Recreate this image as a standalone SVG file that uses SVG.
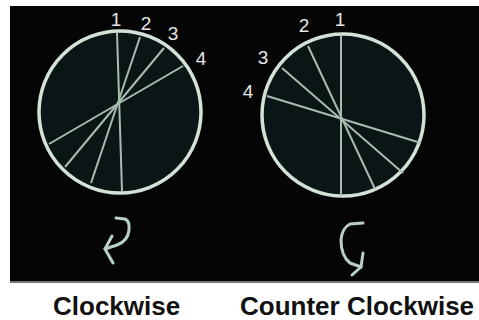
<svg xmlns="http://www.w3.org/2000/svg" width="479" height="320" viewBox="0 0 479 320">
<style>
.wheel{fill:#0a1515;stroke:#d2e2d6;stroke-width:3.5}
.spoke{stroke:#a9bcb2;stroke-width:2;fill:none}
.num{font-family:"Liberation Sans",Arial,sans-serif;font-size:19px;fill:#e6e6e6;text-anchor:middle}
.arr{fill:none;stroke:#b9d0c6;stroke-width:3;stroke-linecap:round;stroke-linejoin:round}
.cap{font-family:"Liberation Sans",Arial,sans-serif;font-size:26px;font-weight:bold;fill:#111}
</style>
<rect width="479" height="320" fill="#fff"/>
<rect x="10" y="6" width="469" height="276" fill="#050505"/>
<rect x="10" y="281" width="469" height="2" fill="#777"/>
<g id="clockwise-wheel">
<circle class="wheel" cx="120" cy="112" r="81"/>
<line class="spoke" x1="117" y1="33" x2="122" y2="191"/>
<line class="spoke" x1="140" y1="37" x2="91" y2="183"/>
<line class="spoke" x1="164" y1="48" x2="65" y2="167"/>
<line class="spoke" x1="183" y1="66" x2="49" y2="144"/>
<text class="num" x="116" y="26">1</text>
<text class="num" x="146" y="30">2</text>
<text class="num" x="173" y="40">3</text>
<text class="num" x="201" y="65">4</text>
</g>
<g id="counter-wheel">
<circle class="wheel" cx="343" cy="115" r="81"/>
<line class="spoke" x1="341" y1="36" x2="341" y2="196"/>
<line class="spoke" x1="308" y1="46" x2="375" y2="189"/>
<line class="spoke" x1="282" y1="68" x2="403" y2="173"/>
<line class="spoke" x1="267" y1="96" x2="421" y2="143"/>
<text class="num" x="340" y="26">1</text>
<text class="num" x="304" y="32">2</text>
<text class="num" x="263" y="64">3</text>
<text class="num" x="248" y="98">4</text>
</g>
<g id="connectors">
<path class="arr" d="M116,218 L125,219 Q130,221 129,230 Q128,241 117,245 L105,249"/>
<path class="arr" d="M112,236 L105,249 L113,263"/>
<path class="arr" d="M363,223 L350,224 Q342,228 341,240 Q341,256 350,263 L361,267"/>
<path class="arr" d="M363,253 L361,267 L352,275"/>
</g>
<text class="cap" x="53" y="315">Clockwise</text>
<text class="cap" x="240" y="315">Counter Clockwise</text>
</svg>
